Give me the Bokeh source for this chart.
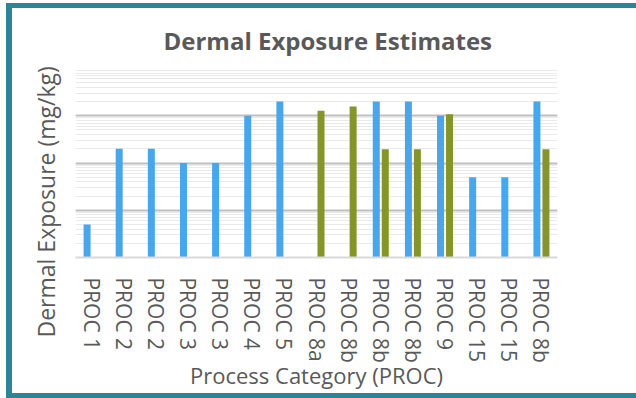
import math
from bokeh.plotting import figure
from bokeh.models import ColumnDataSource, Range1d, FixedTicker, Title
from bokeh.transform import dodge
from bokeh.embed import file_html
from bokeh.resources import INLINE

# ---- data ----
categories = ["PROC 1", "PROC 2", "PROC 2", "PROC 3", "PROC 3", "PROC 4", "PROC 5",
              "PROC 8a", "PROC 8b", "PROC 8b", "PROC 8b", "PROC 9", "PROC 15",
              "PROC 15", "PROC 8b"]
nan = float("nan")
series_blue = [0.05, 2.0, 2.0, 1.0, 1.0, 10.0, 20.0, nan, nan, 20.0, 20.0, 10.0, 0.5, 0.5, 20.0]
series_green = [nan, nan, nan, nan, nan, nan, nan, 12.7, 15.6, 1.95, 1.95, 10.8, nan, nan, 1.95]

y_min, y_max = 0.01, 100

TEXT = "#595959"
FONT = "Open Sans"
BLUE = "#47A6EC"
GREEN = "#86952B"
TEAL = "#2E8497"

W, H = 624, 385

p = figure(width=W, height=H, x_range=Range1d(-0.5, len(categories) - 0.5),
           y_range=Range1d(y_min, y_max), y_axis_type="log",
           output_backend="svg", toolbar_location=None,
           min_border_left=63, min_border_right=79, min_border_top=60, min_border_bottom=136)
p.styles = {"margin-left": "12px", "margin-top": "8px",
            "box-shadow": f"0 0 0 5px {TEAL}, -1px 0 0 5px {TEAL}",
            "clip-path": "inset(-5px 0px -5px -6px)"}
p.outline_line_color = None
p.background_fill_color = "white"
p.border_fill_color = "white"

src = ColumnDataSource(dict(x=list(range(len(categories))), blue=series_blue, green=series_green))
p.vbar(x=dodge("x", -0.14), top="blue", bottom=y_min, width=0.218, source=src,
       fill_color=BLUE, line_color=None)
p.vbar(x=dodge("x", 0.14), top="green", bottom=y_min, width=0.218, source=src,
       fill_color=GREEN, line_color=None)

# title
p.title.text = "Dermal Exposure Estimates"
p.title.align = "left"
p.title.offset = 88
p.title.text_font = FONT
p.title.text_font_size = "24px"
p.title.text_font_style = "bold"
p.title.text_color = TEXT
p.title.standoff = 24

# x axis
p.xaxis.ticker = FixedTicker(ticks=list(range(len(categories))))
p.xaxis.major_label_overrides = {i: c for i, c in enumerate(categories)}
p.xaxis.major_label_orientation = -math.pi / 2
p.xaxis.major_label_text_font = FONT
p.xaxis.major_label_text_font_size = "21px"
p.xaxis.major_label_text_color = TEXT
p.xaxis.major_label_standoff = 14
p.xaxis.major_tick_line_color = None
p.xaxis.minor_tick_line_color = None
p.xaxis.axis_line_color = "#D9D9D9"
p.xaxis.axis_line_width = 2
p.xaxis.axis_label = "Process Category (PROC)"
p.xaxis.axis_label_text_font = FONT
p.xaxis.axis_label_text_font_size = "22px"
p.xaxis.axis_label_text_font_style = "normal"
p.xaxis.axis_label_text_color = TEXT
p.xaxis.axis_label_standoff = -6

# y axis: hidden, its label drawn as a side title shifted down like the reference
p.yaxis.visible = False
p.add_layout(Title(text="Dermal Exposure (mg/kg)", align="left", offset=-80,
                   text_font=FONT, text_font_size="23px", text_font_style="normal",
                   text_color=TEXT, standoff=28), "left")

# grid
p.xgrid.visible = False
p.ygrid.grid_line_color = "#BFBFBF"
p.ygrid.grid_line_width = 2
p.ygrid.minor_grid_line_color = "#EAEAEA"
p.ygrid.minor_grid_line_width = 1

open("out.html", "w").write(file_html(p, INLINE))
